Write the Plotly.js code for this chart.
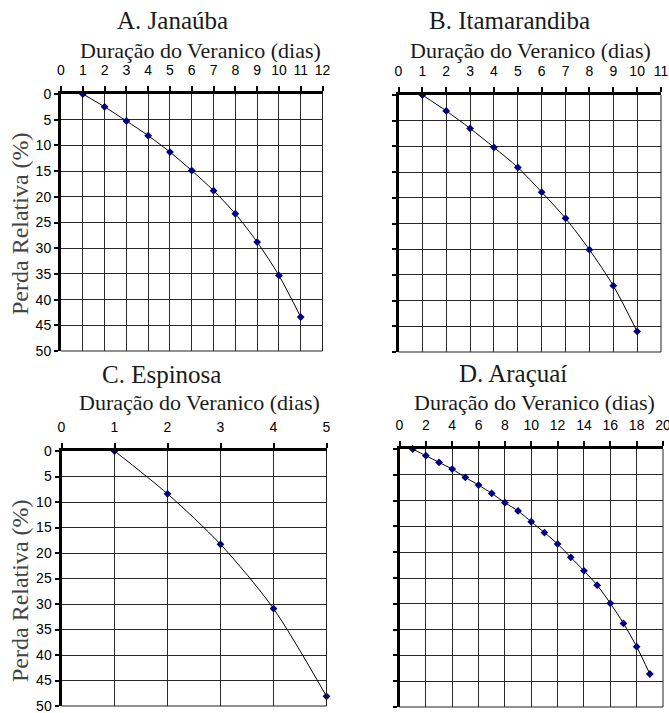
<!DOCTYPE html>
<html>
<head>
<meta charset="utf-8">
<script src="https://cdn.plot.ly/plotly-3.0.1.min.js"></script>
<style>html,body{margin:0;padding:0;background:#fff;}#chart{width:669px;height:713px;}</style>
</head>
<body>
<div id="chart"></div>
<script>
// Texts
var panelTitles = ["A. Janaúba", "B. Itamarandiba", "C. Espinosa", "D. Araçuaí"];
var xTitle = "Duração do Veranico (dias)";
var yTitle = "Perda Relativa (%)";

// A. Janaúba
var janaubaX = [1, 2, 3, 4, 5, 6, 7, 8, 9, 10, 11];
var janaubaY = [0, 2.5, 5.25, 8.1, 11.3, 14.9, 18.8, 23.3, 28.8, 35.3, 43.4];
// B. Itamarandiba
var itamX = [1, 2, 3, 4, 5, 6, 7, 8, 9, 10];
var itamY = [0, 3.1, 6.5, 10.2, 14.1, 18.9, 24.0, 30.1, 37.1, 46.0];
// C. Espinosa
var espX = [1, 2, 3, 4, 5];
var espY = [0, 8.4, 18.3, 30.9, 48.1];
// D. Araçuaí
var aracX = [1, 2, 3, 4, 5, 6, 7, 8, 9, 10, 11, 12, 13, 14, 15, 16, 17, 18, 19];
var aracY = [0, 1.3, 2.6, 3.9, 5.5, 7.0, 8.6, 10.4, 12.0, 14.1, 16.2, 18.4, 21.0, 23.6, 26.4, 29.9, 33.8, 38.3, 43.6];

// Axis ranges / tick steps
var xMax = [12, 11, 5, 20];
var xStep = [1, 1, 1, 2];
var yMax = 50, yStep = 5;

var W = 669, H = 713;
// plot areas in pixels [left, right, top, bottom]
var boxes = [
  [61, 322.5, 94, 351],
  [398.5, 661, 95, 352],
  [61.5, 326.5, 451, 706],
  [399.5, 663, 449, 707]
];
var xs = [janaubaX, itamX, espX, aracX];
var ys = [janaubaY, itamY, espY, aracY];

var serif = 'Liberation Serif';
var sans = 'Arial';

var data = [];
var layout = {
  width: W, height: H,
  margin: {l: 0, r: 0, t: 0, b: 0},
  paper_bgcolor: '#fff', plot_bgcolor: '#fff',
  font: {family: serif},
  showlegend: false,
  annotations: [],
  shapes: []
};

for (var i = 0; i < 4; i++) {
  var n = i === 0 ? '' : String(i + 1);
  data.push({
    x: xs[i], y: ys[i], xaxis: 'x' + n, yaxis: 'y' + n,
    type: 'scatter', mode: 'lines+markers',
    line: {color: '#000', width: 1, shape: 'spline', smoothing: 0.8},
    marker: {symbol: 'diamond', size: 6, color: '#000080'},
    cliponaxis: false
  });
  var b = boxes[i];
  var showY = (i === 0 || i === 2);
  layout['xaxis' + n] = {
    domain: [b[0] / W, b[1] / W], anchor: 'y' + n, side: 'top',
    range: [0, xMax[i]], dtick: xStep[i], tick0: 0,
    showgrid: true, gridcolor: '#2a2a2a', gridwidth: 1, zeroline: false,
    showline: true, linecolor: '#000', linewidth: 3,
    ticks: 'outside', ticklen: 5, tickwidth: 2, tickcolor: '#000',
    ticklabelstandoff: 5,
    ticklabeloverflow: 'allow',
    tickfont: {family: sans, size: 14, color: '#000'},
    fixedrange: true
  };
  layout['yaxis' + n] = {
    domain: [1 - b[3] / H, 1 - b[2] / H], anchor: 'x' + n,
    range: [yMax, 0], dtick: yStep, tick0: 0,
    showgrid: true, gridcolor: '#2a2a2a', gridwidth: 1, zeroline: false,
    showline: true, linecolor: '#000', linewidth: 3,
    ticks: 'outside', ticklen: 4, tickwidth: 2, tickcolor: '#000',
    showticklabels: showY, ticklabeloverflow: 'allow',
    tickfont: {family: sans, size: 14, color: '#000'},
    fixedrange: true
  };
  layout.shapes.push({type: 'line', xref: 'x' + n + ' domain', yref: 'y' + n + ' domain',
    x0: 1, x1: 1, y0: 0, y1: 1, line: {color: '#222', width: 1}});
  layout.shapes.push({type: 'line', xref: 'x' + n + ' domain', yref: 'y' + n + ' domain',
    x0: 0, x1: 1, y0: 0, y1: 0, line: {color: '#222', width: 1}});
}

// titles (pixel centres)
var titlePos = [[172, 20], [509, 20], [161, 375], [513, 373]];
var xTitlePos = [[200, 50], [530, 50], [199, 403], [534, 403]];
for (var j = 0; j < 4; j++) {
  layout.annotations.push({
    text: panelTitles[j], xref: 'paper', yref: 'paper',
    x: titlePos[j][0] / W, y: 1 - titlePos[j][1] / H,
    xanchor: 'center', yanchor: 'middle', showarrow: false,
    font: {family: serif, size: 25, color: '#1a1a1a'}
  });
  layout.annotations.push({
    text: xTitle, xref: 'paper', yref: 'paper',
    x: xTitlePos[j][0] / W, y: 1 - xTitlePos[j][1] / H,
    xanchor: 'center', yanchor: 'middle', showarrow: false,
    font: {family: serif, size: 22, color: '#1a1a1a'}
  });
}
var yTitlePos = [[20, 224], [20, 591]];
for (var k = 0; k < 2; k++) {
  layout.annotations.push({
    text: yTitle, xref: 'paper', yref: 'paper',
    x: yTitlePos[k][0] / W, y: 1 - yTitlePos[k][1] / H,
    xanchor: 'center', yanchor: 'middle', showarrow: false, textangle: -90,
    font: {family: serif, size: 24, color: '#444'}
  });
}
Plotly.newPlot('chart', data, layout, {displayModeBar: false, staticPlot: true});
</script>
</body>
</html>
